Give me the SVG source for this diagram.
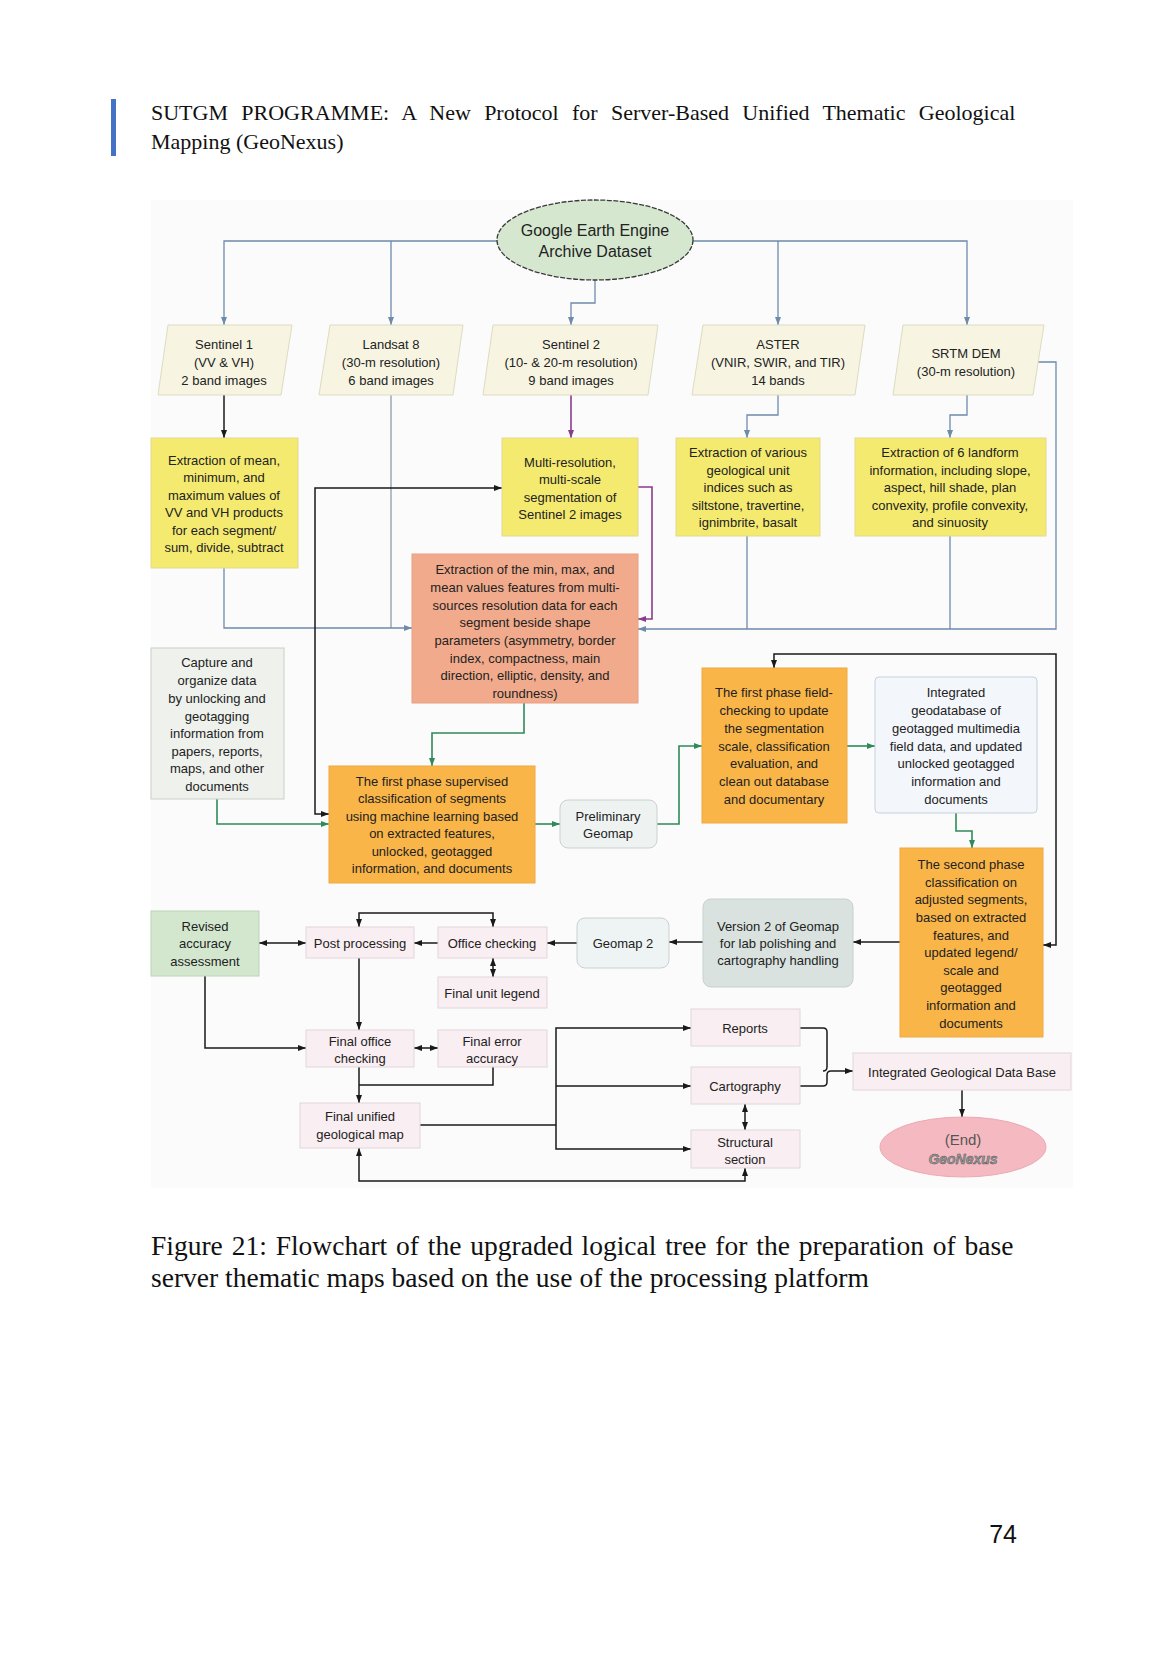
<svg xmlns="http://www.w3.org/2000/svg" width="1166" height="1654" viewBox="0 0 1166 1654">
<style>
.t{font-family:"Liberation Sans",Arial,sans-serif;font-size:13px;fill:#222;text-anchor:middle;dominant-baseline:central}
.hd{font-family:"Liberation Serif","Times New Roman",serif;font-size:22px;fill:#111}
.cap{font-family:"Liberation Serif","Times New Roman",serif;font-size:27.5px;fill:#111}
.para{fill:#f7f5e2;stroke:#dedbc2;stroke-width:1}
.yel{fill:#f5ea70;stroke:#e2d98f;stroke-width:1}
.sal{fill:#f1ab8c;stroke:#e6a083;stroke-width:1}
.org{fill:#f9b548;stroke:#eeaa40;stroke-width:1}
.pink{fill:#f9eef1;stroke:#e2d6da;stroke-width:1}
.cb{fill:none;stroke:#6d8bab;stroke-width:1.3}
.cg{fill:none;stroke:#8e9aa8;stroke-width:1.3}
.ck{fill:none;stroke:#1a1a1a;stroke-width:1.5}
.cgr{fill:none;stroke:#2f8a5a;stroke-width:1.6}
.cp{fill:none;stroke:#8a3b8c;stroke-width:1.6}
</style>
<defs>
<marker id="ab" markerUnits="userSpaceOnUse" markerWidth="8" markerHeight="8" viewBox="0 0 8 8" refX="8" refY="4" orient="auto-start-reverse"><path d="M0,1 L8,4 L0,7 z" fill="#6d8bab"/></marker>
<marker id="ak" markerUnits="userSpaceOnUse" markerWidth="8" markerHeight="8" viewBox="0 0 8 8" refX="8" refY="4" orient="auto-start-reverse"><path d="M0,1 L8,4 L0,7 z" fill="#1a1a1a"/></marker>
<marker id="ag" markerUnits="userSpaceOnUse" markerWidth="8" markerHeight="8" viewBox="0 0 8 8" refX="8" refY="4" orient="auto-start-reverse"><path d="M0,1 L8,4 L0,7 z" fill="#2f8a5a"/></marker>
<marker id="ap" markerUnits="userSpaceOnUse" markerWidth="8" markerHeight="8" viewBox="0 0 8 8" refX="8" refY="4" orient="auto-start-reverse"><path d="M0,1 L8,4 L0,7 z" fill="#8a3b8c"/></marker>
</defs>
<rect width="1166" height="1654" fill="#ffffff"/>
<!-- header -->
<rect x="111" y="99" width="5" height="57" fill="#4472c4"/>
<text class="hd" x="151" y="120" style="word-spacing:7.8px">SUTGM PROGRAMME: A New Protocol for Server-Based Unified Thematic Geological</text>
<text class="hd" x="151" y="149">Mapping (GeoNexus)</text>
<!-- diagram background -->
<rect x="151" y="200" width="922" height="988" fill="#fbfbfb"/>

<g id="connectors">
<path class="cb" d="M497 241 H224 V325" marker-end="url(#ab)"/>
<path class="cb" d="M391 241 V325" marker-end="url(#ab)"/>
<path class="cb" d="M693 241 H967 V325" marker-end="url(#ab)"/>
<path class="cb" d="M778 241 V325" marker-end="url(#ab)"/>
<path class="cb" d="M595 280 V303 H571 V325" marker-end="url(#ab)"/>
<path class="ck" d="M224 395 V438" marker-end="url(#ak)"/>
<path class="cp" d="M571 395 V438" marker-end="url(#ap)"/>
<path class="cb" d="M778 395 V415 H747 V438" marker-end="url(#ab)"/>
<path class="cb" d="M967 395 V415 H950 V438" marker-end="url(#ab)"/>
<path class="cg" d="M391 395 V628"/>
<path class="cb" d="M224 568 V628 H412" marker-end="url(#ab)"/>
<path class="cb" d="M1038 362 H1056 V629 H638" marker-end="url(#ab)"/>
<path class="cb" d="M747 536 V629"/>
<path class="cb" d="M950 536 V629"/>
<path class="cp" d="M638 487 H652 V619 H638" marker-end="url(#ap)"/>
<path class="ck" d="M502 488 H315 V814 H329" marker-start="url(#ak)" marker-end="url(#ak)"/>
<path class="cgr" d="M524 703 V733 H432 V766" marker-end="url(#ag)"/>
<path class="cgr" d="M217 799 V824 H329" marker-end="url(#ag)"/>
<path class="cgr" d="M535 824 H560" marker-end="url(#ag)"/>
<path class="cgr" d="M657 824 H679 V746 H702" marker-end="url(#ag)"/>
<path class="cgr" d="M847 746 H875" marker-end="url(#ag)"/>
<path class="cgr" d="M956 813 V831 H972 V848" marker-end="url(#ag)"/>
<path class="ck" d="M774 668 V654 H1056 V945 H1043" marker-start="url(#ak)" marker-end="url(#ak)"/>
<path class="ck" d="M900 942 H853" marker-end="url(#ak)"/>
<path class="ck" d="M703 942 H669" marker-end="url(#ak)"/>
<path class="ck" d="M577 943 H547" marker-end="url(#ak)"/>
<path class="ck" d="M438 943 H414" marker-end="url(#ak)"/>
<path class="ck" d="M259 943 H306" marker-start="url(#ak)" marker-end="url(#ak)"/>
<path class="ck" d="M359 927 V913 H493 V927" marker-start="url(#ak)" marker-end="url(#ak)"/>
<path class="ck" d="M493 958 V977" marker-start="url(#ak)" marker-end="url(#ak)"/>
<path class="ck" d="M359 958 V1030" marker-end="url(#ak)"/>
<path class="ck" d="M205 976 V1048 H306" marker-end="url(#ak)"/>
<path class="ck" d="M414 1048 H438" marker-start="url(#ak)" marker-end="url(#ak)"/>
<path class="ck" d="M359 1067 V1103" marker-end="url(#ak)"/>
<path class="ck" d="M493 1067 V1085 H359"/>
<path class="ck" d="M420 1125 H556"/>
<path class="ck" d="M691 1028 H556 V1149 H691" marker-start="url(#ak)" marker-end="url(#ak)"/>
<path class="ck" d="M556 1086 H691" marker-end="url(#ak)"/>
<path class="ck" d="M800 1028 H823 Q827 1028 827 1032 V1067 Q827 1071 823 1071"/>
<path class="ck" d="M800 1086 H823 Q827 1086 827 1082 V1075 Q827 1071 831 1071 H853" marker-end="url(#ak)"/>
<path class="ck" d="M745 1104 V1130" marker-start="url(#ak)" marker-end="url(#ak)"/>
<path class="ck" d="M962 1090 V1117" marker-end="url(#ak)"/>
<path class="ck" d="M359 1148 V1181 H745 V1168" marker-start="url(#ak)" marker-end="url(#ak)"/>
</g>

<g id="gee">
<ellipse cx="595" cy="240" rx="98" ry="40" fill="#d5e7cf" stroke="#3a3a3a" stroke-width="1.3" stroke-dasharray="5,1.5"/>
<text class="t" style="font-size:16px" x="595" y="230">Google Earth Engine</text>
<text class="t" style="font-size:16px" x="595" y="251">Archive Dataset</text>
</g>
<g id="sentinel1">
<polygon class="para" points="168,325 292,325 281,395 158,395"/>
<text class="t" x="224" y="344">Sentinel 1</text>
<text class="t" x="224" y="362">(VV &amp; VH)</text>
<text class="t" x="224" y="380">2 band images</text>
</g>
<g id="landsat8">
<polygon class="para" points="330,325 463,325 453,395 319,395"/>
<text class="t" x="391" y="344">Landsat 8</text>
<text class="t" x="391" y="362">(30-m resolution)</text>
<text class="t" x="391" y="380">6 band images</text>
</g>
<g id="sentinel2">
<polygon class="para" points="493,325 658,325 648,395 483,395"/>
<text class="t" x="571" y="344">Sentinel 2</text>
<text class="t" x="571" y="362">(10- &amp; 20-m resolution)</text>
<text class="t" x="571" y="380">9 band images</text>
</g>
<g id="aster">
<polygon class="para" points="703,325 865,325 855,395 692,395"/>
<text class="t" x="778" y="344">ASTER</text>
<text class="t" x="778" y="362">(VNIR, SWIR, and TIR)</text>
<text class="t" x="778" y="380">14 bands</text>
</g>
<g id="srtm">
<polygon class="para" points="903,325 1044,325 1033,395 893,395"/>
<text class="t" x="966" y="353">SRTM DEM</text>
<text class="t" x="966" y="371">(30-m resolution)</text>
</g>
<g id="extract-s1">
<rect class="yel" x="151" y="438" width="147" height="130"/>
<text class="t" x="224" y="460">Extraction of mean,</text>
<text class="t" x="224" y="477">minimum, and</text>
<text class="t" x="224" y="495">maximum values of</text>
<text class="t" x="224" y="512">VV and VH products</text>
<text class="t" x="224" y="530">for each segment/</text>
<text class="t" x="224" y="547">sum, divide, subtract</text>
</g>
<g id="multires">
<rect class="yel" x="502" y="438" width="136" height="98"/>
<text class="t" x="570" y="462">Multi-resolution,</text>
<text class="t" x="570" y="479">multi-scale</text>
<text class="t" x="570" y="497">segmentation of</text>
<text class="t" x="570" y="514">Sentinel 2 images</text>
</g>
<g id="extract-aster">
<rect class="yel" x="676" y="438" width="144" height="98"/>
<text class="t" x="748" y="452">Extraction of various</text>
<text class="t" x="748" y="470">geological unit</text>
<text class="t" x="748" y="487">indices such as</text>
<text class="t" x="748" y="505">siltstone, travertine,</text>
<text class="t" x="748" y="522">ignimbrite, basalt</text>
</g>
<g id="extract-srtm">
<rect class="yel" x="855" y="438" width="191" height="98"/>
<text class="t" x="950" y="452">Extraction of 6 landform</text>
<text class="t" x="950" y="470">information, including slope,</text>
<text class="t" x="950" y="487">aspect, hill shade, plan</text>
<text class="t" x="950" y="505">convexity, profile convexity,</text>
<text class="t" x="950" y="522">and sinuosity</text>
</g>
<g id="extract-features">
<rect class="sal" x="412" y="554" width="226" height="149"/>
<text class="t" x="525" y="569">Extraction of the min, max, and</text>
<text class="t" x="525" y="587">mean values features from multi-</text>
<text class="t" x="525" y="605">sources resolution data for each</text>
<text class="t" x="525" y="622">segment beside shape</text>
<text class="t" x="525" y="640">parameters (asymmetry, border</text>
<text class="t" x="525" y="658">index, compactness, main</text>
<text class="t" x="525" y="675">direction, elliptic, density, and</text>
<text class="t" x="525" y="693">roundness)</text>
</g>
<g id="capture">
<rect x="151" y="648" width="133" height="151" fill="#eef1ec" stroke="#c9d0c6"/>
<text class="t" x="217" y="662">Capture and</text>
<text class="t" x="217" y="680">organize data</text>
<text class="t" x="217" y="698">by unlocking and</text>
<text class="t" x="217" y="716">geotagging</text>
<text class="t" x="217" y="733">information from</text>
<text class="t" x="217" y="751">papers, reports,</text>
<text class="t" x="217" y="768">maps, and other</text>
<text class="t" x="217" y="786">documents</text>
</g>
<g id="first-phase">
<rect class="org" x="329" y="766" width="206" height="117"/>
<text class="t" x="432" y="781">The first phase supervised</text>
<text class="t" x="432" y="798">classification of segments</text>
<text class="t" x="432" y="816">using machine learning based</text>
<text class="t" x="432" y="833">on extracted features,</text>
<text class="t" x="432" y="851">unlocked, geotagged</text>
<text class="t" x="432" y="868">information, and documents</text>
</g>
<g id="prelim">
<rect x="560" y="800" width="97" height="48" rx="8" fill="#eef3f2" stroke="#c9d1d0"/>
<text class="t" x="608" y="816">Preliminary</text>
<text class="t" x="608" y="833">Geomap</text>
</g>
<g id="field-check">
<rect class="org" x="702" y="668" width="145" height="155"/>
<text class="t" x="774" y="692">The first phase field-</text>
<text class="t" x="774" y="710">checking to update</text>
<text class="t" x="774" y="728">the segmentation</text>
<text class="t" x="774" y="746">scale, classification</text>
<text class="t" x="774" y="763">evaluation, and</text>
<text class="t" x="774" y="781">clean out database</text>
<text class="t" x="774" y="799">and documentary</text>
</g>
<g id="integrated-gdb">
<rect x="875" y="677" width="162" height="136" rx="4" fill="#f3f6fb" stroke="#c6d1de"/>
<text class="t" x="956" y="692">Integrated</text>
<text class="t" x="956" y="710">geodatabase of</text>
<text class="t" x="956" y="728">geotagged multimedia</text>
<text class="t" x="956" y="746">field data, and updated</text>
<text class="t" x="956" y="763">unlocked geotagged</text>
<text class="t" x="956" y="781">information and</text>
<text class="t" x="956" y="799">documents</text>
</g>
<g id="second-phase">
<rect class="org" x="900" y="848" width="143" height="189"/>
<text class="t" x="971" y="864">The second phase</text>
<text class="t" x="971" y="882">classification on</text>
<text class="t" x="971" y="899">adjusted segments,</text>
<text class="t" x="971" y="917">based on extracted</text>
<text class="t" x="971" y="935">features, and</text>
<text class="t" x="971" y="952">updated legend/</text>
<text class="t" x="971" y="970">scale and</text>
<text class="t" x="971" y="987">geotagged</text>
<text class="t" x="971" y="1005">information and</text>
<text class="t" x="971" y="1023">documents</text>
</g>
<g id="version2">
<rect x="703" y="899" width="150" height="88" rx="8" fill="#d9e2df" stroke="#c8d1cd"/>
<text class="t" x="778" y="926">Version 2 of Geomap</text>
<text class="t" x="778" y="943">for lab polishing and</text>
<text class="t" x="778" y="960">cartography handling</text>
</g>
<g id="geomap2">
<rect x="577" y="918" width="92" height="50" rx="8" fill="#eef3f3" stroke="#c9d1d0"/>
<text class="t" x="623" y="943">Geomap 2</text>
</g>
<g id="revised">
<rect x="151" y="911" width="108" height="65" fill="#d3e7cf" stroke="#bcd4b7"/>
<text class="t" x="205" y="926">Revised</text>
<text class="t" x="205" y="943">accuracy</text>
<text class="t" x="205" y="961">assessment</text>
</g>
<g id="post-processing">
<rect class="pink" x="306" y="927" width="108" height="31"/>
<text class="t" x="360" y="943">Post processing</text>
</g>
<g id="office-checking">
<rect class="pink" x="438" y="927" width="109" height="31"/>
<text class="t" x="492" y="943">Office checking</text>
</g>
<g id="final-unit-legend">
<rect class="pink" x="438" y="977" width="109" height="31"/>
<text class="t" x="492" y="993">Final unit legend</text>
</g>
<g id="final-office">
<rect class="pink" x="306" y="1030" width="108" height="37"/>
<text class="t" x="360" y="1041">Final office</text>
<text class="t" x="360" y="1058">checking</text>
</g>
<g id="final-error">
<rect class="pink" x="438" y="1030" width="109" height="37"/>
<text class="t" x="492" y="1041">Final error</text>
<text class="t" x="492" y="1058">accuracy</text>
</g>
<g id="final-unified">
<rect class="pink" x="300" y="1103" width="120" height="45"/>
<text class="t" x="360" y="1116">Final unified</text>
<text class="t" x="360" y="1134">geological map</text>
</g>
<g id="reports">
<rect class="pink" x="691" y="1009" width="109" height="37"/>
<text class="t" x="745" y="1028">Reports</text>
</g>
<g id="cartography">
<rect class="pink" x="691" y="1067" width="109" height="37"/>
<text class="t" x="745" y="1086">Cartography</text>
</g>
<g id="structural">
<rect class="pink" x="691" y="1130" width="109" height="38"/>
<text class="t" x="745" y="1142">Structural</text>
<text class="t" x="745" y="1159">section</text>
</g>
<g id="igdb">
<rect class="pink" x="853" y="1053" width="218" height="37"/>
<text class="t" x="962" y="1072">Integrated Geological Data Base</text>
</g>
<g id="end">
<ellipse cx="963" cy="1147" rx="83" ry="30" fill="#f5b9c1" stroke="#ecaab3"/>
<text class="t" style="font-size:15px;fill:#555" x="963" y="1139">(End)</text>
<text class="t" style="font-size:14px;font-style:italic;font-weight:bold;fill:#9a9a9a;stroke:#555;stroke-width:0.5" x="963" y="1159">GeoNexus</text>
</g>

<!-- caption -->
<text class="cap" x="151" y="1255" style="word-spacing:2px">Figure 21: Flowchart of the upgraded logical tree for the preparation of base</text>
<text class="cap" x="151" y="1287">server thematic maps based on the use of the processing platform</text>
<text x="1017" y="1543" text-anchor="end" style="font-family:'Liberation Sans',Arial,sans-serif;font-size:25px;fill:#111">74</text>
</svg>
